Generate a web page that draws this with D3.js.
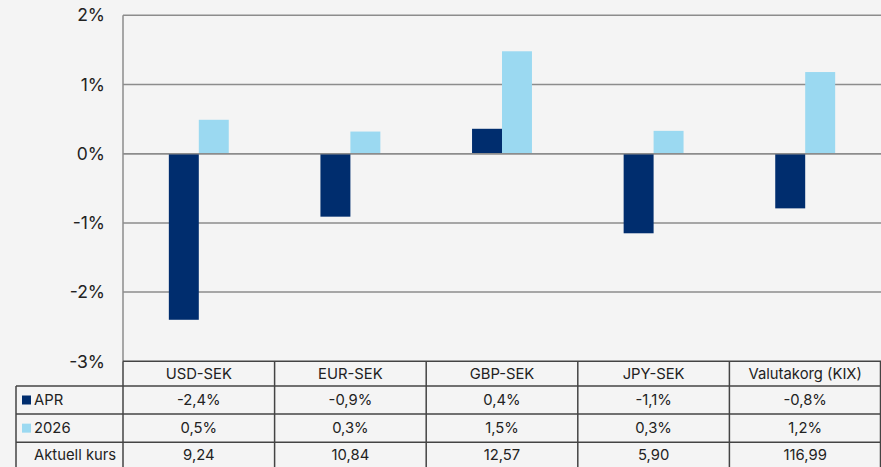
<!DOCTYPE html>
<html><head><meta charset="utf-8">
<script src="https://cdn.jsdelivr.net/npm/d3@7"></script>
<style>
html,body{margin:0;padding:0;background:#f4f4f4;}
svg{display:block;font-family:Inter,"Noto Sans",sans-serif;}
</style></head>
<body><svg id="c" width="881" height="467"></svg>
<script>
const categories = ["USD-SEK","EUR-SEK","GBP-SEK","JPY-SEK","Valutakorg (KIX)"];
const seriesNames = ["APR","2026"];
const aprValues = [-2.4,-0.91,0.36,-1.15,-0.79];
const y2026Values = [0.49,0.32,1.48,0.33,1.18];
const aprLabels = ["-2,4%","-0,9%","0,4%","-1,1%","-0,8%"];
const y2026Labels = ["0,5%","0,3%","1,5%","0,3%","1,2%"];
const kursLabels = ["9,24","10,84","12,57","5,90","116,99"];
const yTicks = [2,1,0,-1,-2,-3];
const colors = {"APR":"#002d6e","2026":"#9bd9f1"};

(function(){
const svg = d3.select("#c");
const W = 881, H = 467;
const pLeft = 123, pRight = 881, pTop = 15.3, pBottom = 361.3;
const tableLeft = 16;
const rowEdges = [361.3, 386, 414, 442.3, 470];

svg.append("rect").attr("width",W).attr("height",H).attr("fill","#f4f4f4");

const x = d3.scaleBand().domain(categories).range([pLeft,pRight]).padding(0);
const xs = d3.scaleBand().domain(seriesNames).range([0,x.bandwidth()]).paddingInner(0).paddingOuter(1.53);
const y = d3.scaleLinear().domain([-3,2]).range([pBottom,pTop]);

svg.append("g").selectAll("line").data(yTicks.filter(d=>d>-3)).join("line")
  .attr("x1",pLeft).attr("x2",pRight)
  .attr("y1",d=>y(d)).attr("y2",d=>y(d))
  .attr("stroke","#8c8c8c").attr("stroke-width",1.5);

svg.append("g").selectAll("text").data(yTicks).join("text")
  .attr("x",105).attr("y",d=>y(d)+ (d===-3?1:0))
  .attr("dy","0.35em").attr("text-anchor","end")
  .attr("font-size",17.5).attr("fill","#222")
  .text(d=>d+"%");

const data = categories.map((c,i)=>({cat:c, vals:[{s:"APR",v:aprValues[i]},{s:"2026",v:y2026Values[i]}]}));
const g = svg.append("g").selectAll("g").data(data).join("g")
  .attr("transform",d=>`translate(${x(d.cat)},0)`);
g.selectAll("rect").data(d=>d.vals).join("rect")
  .attr("x",d=>xs(d.s)).attr("width",xs.bandwidth())
  .attr("y",d=>y(Math.max(0,d.v)))
  .attr("height",d=>Math.abs(y(d.v)-y(0)))
  .attr("fill",d=>colors[d.s]);

svg.append("line").attr("x1",pLeft).attr("x2",pRight).attr("y1",y(0)).attr("y2",y(0))
  .attr("stroke","#8c8c8c").attr("stroke-width",1.5);

svg.append("line").attr("x1",pLeft).attr("x2",pLeft).attr("y1",pTop).attr("y2",pBottom)
  .attr("stroke","#8c8c8c").attr("stroke-width",1.5);

const tbl = svg.append("g");
const tcol = "#444";
tbl.append("line").attr("x1",pLeft).attr("x2",pRight).attr("y1",rowEdges[0]).attr("y2",rowEdges[0]).attr("stroke",tcol).attr("stroke-width",1.5);
rowEdges.slice(1,4).forEach(ry=>{
  tbl.append("line").attr("x1",tableLeft).attr("x2",pRight).attr("y1",ry).attr("y2",ry).attr("stroke",tcol).attr("stroke-width",1.5);
});
tbl.append("line").attr("x1",tableLeft).attr("x2",tableLeft).attr("y1",rowEdges[1]).attr("y2",H).attr("stroke",tcol).attr("stroke-width",1.5);
categories.forEach(c=>{
  tbl.append("line").attr("x1",x(c)).attr("x2",x(c)).attr("y1",rowEdges[0]).attr("y2",H).attr("stroke",tcol).attr("stroke-width",1.5);
});
tbl.append("line").attr("x1",pRight-0.5).attr("x2",pRight-0.5).attr("y1",rowEdges[0]).attr("y2",H).attr("stroke",tcol).attr("stroke-width",1.5);

const rows = [categories, aprLabels, y2026Labels, kursLabels];
rows.forEach((r,ri)=>{
  tbl.append("g").selectAll("text").data(r).join("text")
    .attr("x",(d,i)=>x(categories[i])+x.bandwidth()/2)
    .attr("y",(rowEdges[ri]+rowEdges[ri+1])/2 + (ri===3?-1:0))
    .attr("dy","0.35em").attr("text-anchor","middle")
    .attr("font-size",14.8).attr("fill","#222").text(d=>d);
});
const rowLabels = ["APR","2026","Aktuell kurs"];
rowLabels.forEach((t,i)=>{
  const cy = (rowEdges[i+1]+rowEdges[i+2])/2 + (i===2?-1:0);
  if (colors[t]) tbl.append("rect").attr("x",22).attr("y",cy-4.5).attr("width",9).attr("height",9).attr("fill",colors[t]);
  tbl.append("text").attr("x",34).attr("y",cy).attr("dy","0.35em")
    .attr("font-size",14.8).attr("fill","#222").text(t);
});
})();
</script></body></html>
